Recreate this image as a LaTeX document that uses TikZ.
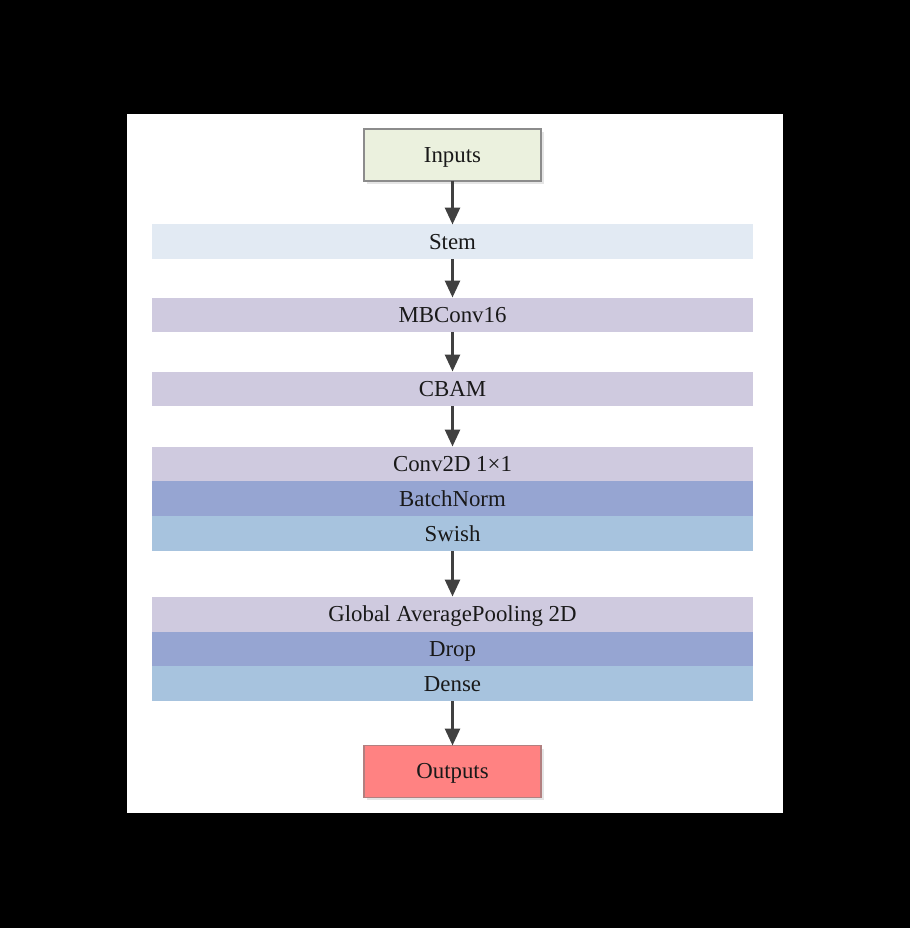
\documentclass[tikz,border=0pt]{standalone}
\usepackage{fontspec}
\setmainfont{Liberation Serif}
\usetikzlibrary{positioning,arrows.meta}

\definecolor{inputfill}{HTML}{EBF1DE}
\definecolor{outputfill}{HTML}{FF8282}
\definecolor{stemfill}{HTML}{E2EAF3}
\definecolor{lavender}{HTML}{CFCADF}
\definecolor{normfill}{HTML}{96A5D2}
\definecolor{swishfill}{HTML}{A7C3DE}
\definecolor{arrowgray}{HTML}{404040}

\tikzset{
    layer/.style={minimum width=12.02cm, minimum height=0.70cm, inner sep=0pt,
        outer sep=0pt, text height=10pt, text depth=2pt,
        font=\fontsize{13}{15}\selectfont, text=black!90},
    endbox/.style={draw=black!45, line width=0.7pt, minimum width=3.54cm,
        minimum height=1.04cm, inner sep=0pt, outer sep=0pt,
        text height=10pt, text depth=2pt,
        font=\fontsize{13}{15}\selectfont, text=black!90},
    flow/.style={draw=arrowgray, line width=1.6pt,
        -{Triangle[width=0.3cm,length=0.34cm]}},
}

\begin{document}
\begin{tikzpicture}[x=0.02cm,y=-0.02cm]
        \fill[black] (0,0) rectangle (910,928);
        \fill[white] (127,114) rectangle (783,813);
        % end boxes
        \fill[black!10] (367,132) rectangle (544,184);
        \node[endbox, fill=inputfill] (inputs) at (452.5,155) {Inputs};
        \fill[black!10] (367,749) rectangle (544,800);
        \node[endbox, fill=outputfill, draw=red!40!black!50] (outputs) at (452.5,771.5) {Outputs};
        % single layers
        \node[layer, fill=stemfill] (stem) at (452.5,242) {Stem};
        \node[layer, fill=lavender] (mbconv) at (452.5,315) {MBConv16};
        \node[layer, fill=lavender] (cbam) at (452.5,389) {CBAM};
        % head block
        \node[layer, fill=lavender] (conv) at (452.5,464) {Conv2D 1×1};
        \node[layer, fill=normfill, below=0pt of conv] (bn) {BatchNorm};
        \node[layer, fill=swishfill, below=0pt of bn] (swish) {Swish};
        % top block
        \node[layer, fill=lavender] (gap) at (452.5,614) {Global AveragePooling 2D};
        \node[layer, fill=normfill, below=0pt of gap] (drop) {Drop};
        \node[layer, fill=swishfill, below=0pt of drop] (dense) {Dense};
        % connectors
        \foreach \a/\b in {inputs/stem, stem/mbconv, mbconv/cbam, cbam/conv,
            swish/gap, dense/outputs}
            \draw[flow] (\a) -- (\b);
\end{tikzpicture}
\end{document}
